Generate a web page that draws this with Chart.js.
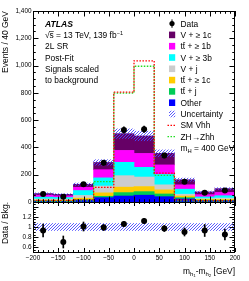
<!DOCTYPE html>
<html>
<head>
<meta charset="utf-8">
<script src="https://cdn.jsdelivr.net/npm/chart.js@4.4.1/dist/chart.umd.min.js"></script>
<style>
  html, body { margin: 0; padding: 0; background: #fff; }
  #wrap { position: relative; width: 249px; height: 281px; }
  #wrap canvas { position: absolute; left: 0; top: 0; }
</style>
</head>
<body>
<div id="wrap">
  <canvas id="main-chart" width="249" height="281"></canvas>
  <canvas id="ratio-chart" width="249" height="281"></canvas>
</div>
<script>
// m_h1 - m_h2 in 40 GeV bins
const binCentres = [-180, -140, -100, -60, -20, 20, 60, 100, 140, 180];
const binEdges = [-200, -160, -120, -80, -40, 0, 40, 80, 120, 160, 200];

// post-fit backgrounds, events / bin (bottom of the stack first)
const other = [6, 5, 12, 32, 44, 50, 39, 22, 8, 8];
const ttJ = [3, 3, 6, 10, 25, 26, 20, 10, 6, 5];
const tt1c = [5, 5, 10, 25, 40, 37, 30, 12, 6, 6];
const vJ = [8, 8, 20, 50, 84, 70, 37, 13, 5, 10];
const v3b = [14, 12, 36, 60, 98, 71, 76, 37, 12, 17];
const tt1b = [14, 12, 24, 60, 87, 102, 70, 32, 17, 24];
const v1c = [12, 11, 22, 53, 123, 128, 85, 37, 20, 28];
const bkgUnc = [5, 5, 9, 20, 35, 35, 25, 12, 6, 7];

// data
const data = [59, 39, 131, 287, 528, 533, 341, 148, 67, 84];
const dataErr = [8, 6, 11, 17, 23, 23, 18, 12, 8, 9];

// signals, scaled to background
const smVhh = [12, 12, 18, 107, 805, 1035, 212, 15, 10, 10];
const zhZhh = [4, 4, 8, 150, 798, 995, 195, 8, 4, 4];

// ratio panel
const ratio = [0.93, 0.70, 1.01, 0.99, 1.06, 1.12, 0.97, 0.90, 0.93, 0.85];
const ratioErr = [0.13, 0.12, 0.09, 0.06, 0.05, 0.05, 0.06, 0.08, 0.12, 0.11];
const ratioUnc = [0.07, 0.07, 0.07, 0.07, 0.07, 0.07, 0.07, 0.07, 0.07, 0.07];

// ticks
const mainYTicks = [0, 200, 400, 600, 800, 1000, 1200, 1400];
const ratioYTicks = [0.6, 0.8, 1, 1.2];
const xTicks = [-200, -150, -100, -50, 0, 50, 100, 150, 200];

const bkgSeries = [other, ttJ, tt1c, vJ, v3b, tt1b, v1c];
const bkgNames = ['Other', 'tt\u0304 + j', 'tt\u0304 + \u2265 1c', 'V + j', 'V + \u2265 3b', 'tt\u0304 + \u2265 1b', 'V + \u2265 1c'];
const bkgColors = ['#0000ff', '#00cc55', '#ffcc00', '#cccccc', '#00ffff', '#ff00ff', '#660066'];

const FONT = '"Liberation Sans", Arial, Helvetica, sans-serif';
Chart.defaults.font.family = FONT;
Chart.defaults.color = '#000';

function hatch(ctx) {
  const t = document.createElement('canvas');
  t.width = 3; t.height = 3;
  const c = t.getContext('2d');
  c.strokeStyle = '#4848ff';
  c.lineWidth = 0.9;
  c.beginPath();
  c.moveTo(0, 3); c.lineTo(3, 0);
  c.moveTo(-1, 1); c.lineTo(1, -1);
  c.moveTo(2, 4); c.lineTo(4, 2);
  c.stroke();
  return ctx.createPattern(t, 'repeat');
}

// text with a combining macron drawn as a real bar (tt̄)
function drawText(ctx, s, x, y) {
  const k = s.indexOf('\u0304');
  if (k < 0) { ctx.fillText(s, x, y); return; }
  const head = s.slice(0, k), tail = s.slice(k + 1);
  ctx.fillText(head, x, y);
  const wHead = ctx.measureText(head).width;
  const wLast = ctx.measureText(head.slice(-1)).width;
  ctx.fillRect(x + wHead - wLast + 0.3, y - 7, wLast - 0.3, 0.6);
  ctx.fillText(tail, x + wHead, y);
}

// box with inward ticks on all four sides
const frame = {
  id: 'frame',
  afterDatasetsDraw(chart, args, o) {
    const { ctx, chartArea: a } = chart;
    const xs = chart.scales.x, ys = chart.scales.y;
    ctx.save();
    ctx.strokeStyle = '#000';
    ctx.lineWidth = 1;
    ctx.strokeRect(Math.round(a.left) + 0.5, Math.round(a.top) + 0.5,
      Math.round(a.right) - Math.round(a.left) - 1, Math.round(a.bottom) - Math.round(a.top));
    ctx.beginPath();
    const xt = (v, len) => {
      const p = Math.round(xs.getPixelForValue(v)) + 0.5;
      ctx.moveTo(p, a.bottom); ctx.lineTo(p, a.bottom - len);
      ctx.moveTo(p, a.top); ctx.lineTo(p, a.top + len);
    };
    const yt = (v, len) => {
      const p = Math.round(ys.getPixelForValue(v)) + 0.5;
      ctx.moveTo(a.left, p); ctx.lineTo(a.left + len, p);
      ctx.moveTo(a.right, p); ctx.lineTo(a.right - len, p);
    };
    for (let v = o.xMin; v <= o.xMax + 1e-9; v += o.xMinor) {
      const major = Math.abs(v / o.xMajor - Math.round(v / o.xMajor)) < 1e-6;
      xt(v, major ? o.xLen : o.xLen / 2);
    }
    for (let v = o.yMin; v <= o.yMax + 1e-9; v += o.yMinor) {
      const major = Math.abs(v / o.yMajor - Math.round(v / o.yMajor)) < 1e-6;
      yt(v, major ? o.yLen : o.yLen / 2);
    }
    ctx.stroke();
    ctx.restore();
  }
};

// ATLAS label and legend
const annotations = {
  id: 'annotations',
  afterDraw(chart) {
    const ctx = chart.ctx;
    ctx.save();
    ctx.fillStyle = '#000';
    ctx.textBaseline = 'alphabetic';
    ctx.textAlign = 'left';

    ctx.font = 'italic bold 8.6px ' + FONT;
    ctx.fillText('ATLAS', 45, 27);
    ctx.font = '8.4px ' + FONT;
    const s1 = '\u221As = 13 TeV, 139 fb';
    ctx.fillText(s1, 45, 37.8);
    const wr = ctx.measureText('\u221A').width, ws = ctx.measureText('\u221As').width;
    ctx.fillRect(45 + wr - 0.5, 31, ws - wr + 0.5, 0.6);
    const w1 = ctx.measureText(s1).width;
    ctx.font = '5.5px ' + FONT;
    ctx.fillText('\u22121', 45 + w1 + 0.3, 34.5);
    ctx.font = '8.4px ' + FONT;
    ctx.fillText('2L SR', 45, 49.2);
    ctx.fillText('Post-Fit', 45, 60.5);
    ctx.fillText('Signals scaled', 45, 71.7);
    ctx.fillText('to background', 45, 83.1);

    // legend
    const mx = 172, tx = 180.5;
    const row = i => 23.6 + 11.3 * i;
    let c = row(0);
    ctx.beginPath(); ctx.arc(mx, c, 2.6, 0, Math.PI * 2); ctx.fill();
    ctx.fillRect(mx - 0.5, c - 4.2, 1, 8.4);
    ctx.fillText('Data', tx, c + 3);
    for (let k = 0; k < bkgNames.length; k++) {
      const j = bkgNames.length - 1 - k;
      c = row(k + 1);
      ctx.fillStyle = bkgColors[j];
      ctx.fillRect(mx - 3, c - 3.3, 6.2, 6.6);
      ctx.fillStyle = '#000';
      drawText(ctx, bkgNames[j], tx, c + 3);
    }
    c = row(8);
    ctx.fillStyle = '#fff';
    ctx.fillRect(mx - 3, c - 3.3, 6.2, 6.6);
    ctx.fillStyle = hatch(ctx);
    ctx.fillRect(mx - 3, c - 3.3, 6.2, 6.6);
    ctx.fillStyle = '#000';
    ctx.fillText('Uncertainty', tx, c + 3);
    const dotted = (i, colour, text) => {
      const cc = row(i);
      ctx.save();
      ctx.strokeStyle = colour; ctx.lineWidth = 1.3; ctx.setLineDash([1.5, 1.5]);
      ctx.beginPath(); ctx.moveTo(mx - 4.5, cc); ctx.lineTo(mx + 4.5, cc); ctx.stroke();
      ctx.restore();
      ctx.fillText(text, tx, cc + 3);
    };
    dotted(9, '#ff0000', 'SM Vhh');
    dotted(10, '#22dd22', 'ZH\u2192Zhh');
    c = row(11);
    ctx.fillText('m', tx, c + 3);
    const wm = ctx.measureText('m').width;
    ctx.font = '5.8px ' + FONT;
    ctx.fillText('H', tx + wm, c + 5);
    const wh = ctx.measureText('H').width;
    ctx.font = '8.4px ' + FONT;
    ctx.fillText(' = 400 GeV', tx + wm + wh, c + 3);
    ctx.restore();
  }
};

// x-axis title with nested subscripts
const xTitle = {
  id: 'xTitle',
  afterDraw(chart) {
    const ctx = chart.ctx;
    const parts = [
      ['m', 8.4, 0], ['h', 6, 2.2], ['1', 4.4, 3.6],
      ['-m', 8.4, 0], ['h', 6, 2.2], ['2', 4.4, 3.6], [' [GeV]', 8.4, 0]
    ];
    ctx.save();
    ctx.fillStyle = '#000';
    ctx.textBaseline = 'alphabetic';
    let total = 0;
    for (const p of parts) { ctx.font = p[1] + 'px ' + FONT; total += ctx.measureText(p[0]).width; }
    let x = chart.chartArea.right - total;
    const base = 273.5;
    for (const p of parts) {
      ctx.font = p[1] + 'px ' + FONT;
      ctx.fillText(p[0], x, base + p[2]);
      x += ctx.measureText(p[0]).width;
    }
    ctx.restore();
  }
};

const mainCtx = document.getElementById('main-chart').getContext('2d');
const totals = binCentres.map((_, i) => bkgSeries.reduce((s, a) => s + a[i], 0));
// histogram outline: point i sits on the left edge of bin i, the last one on the right edge
const stepData = vals => binEdges.map((x, i) => ({ x, y: vals[Math.max(0, i - 1)] }));

const mainChart = new Chart(mainCtx, {
  type: 'bar',
  data: {
    datasets: [
      ...bkgSeries.map((vals, k) => ({
        label: bkgNames[k],
        data: binCentres.map((x, i) => ({ x, y: vals[i] })),
        backgroundColor: bkgColors[k]
      })),
      {
        label: 'Uncertainty',
        yAxisID: 'y2',
        data: binCentres.map((x, i) => ({ x, y: [totals[i] - bkgUnc[i], totals[i] + bkgUnc[i]] })),
        backgroundColor: hatch(mainCtx),
        order: -1
      },
      {
        type: 'line', label: 'ZH\u2192Zhh', yAxisID: 'y2',
        data: stepData(zhZhh), stepped: 'after',
        borderColor: '#22dd22', borderWidth: 1.3, borderDash: [1.5, 1.5],
        pointRadius: 0, fill: false, order: -2
      },
      {
        type: 'line', label: 'SM Vhh', yAxisID: 'y2',
        data: stepData(smVhh), stepped: 'after',
        borderColor: '#ff0000', borderWidth: 1.3, borderDash: [1.5, 1.5],
        pointRadius: 0, fill: false, order: -3
      },
      {
        label: 'Data error', yAxisID: 'y2',
        data: binCentres.map((x, i) => ({ x, y: [data[i] - dataErr[i], data[i] + dataErr[i]] })),
        backgroundColor: '#000', barThickness: 1, order: -4
      },
      {
        type: 'line', label: 'Data', yAxisID: 'y2',
        data: binCentres.map((x, i) => ({ x, y: data[i] })),
        showLine: false, pointRadius: 3, pointBackgroundColor: '#000',
        pointBorderWidth: 0, order: -5
      }
    ]
  },
  options: {
    responsive: false,
    animation: false,
    events: [],
    layout: { padding: { left: 0, right: 14, top: 11, bottom: 79 } },
    datasets: { bar: { grouped: false, categoryPercentage: 1, barPercentage: 1, borderWidth: 0 } },
    plugins: {
      legend: { display: false },
      tooltip: { enabled: false },
      frame: { xMin: -200, xMax: 200, xMajor: 50, xMinor: 10, xLen: 5.5,
               yMin: 0, yMax: 1400, yMajor: 200, yMinor: 50, yLen: 5.5 }
    },
    scales: {
      x: {
        type: 'linear', min: -200, max: 200, offset: false, display: false,
        ticks: { stepSize: 50 }
      },
      y: {
        min: 0, max: 1400, stacked: true,
        afterBuildTicks: s => { s.ticks = mainYTicks.map(value => ({ value })); },
        afterFit: s => { s.width = 33; },
        grid: { display: false, drawTicks: false },
        border: { display: false },
        ticks: { font: { size: 6.4 }, padding: 1.5, autoSkip: false, color: '#000' },
        title: { display: true, text: 'Events / 40 GeV', align: 'end',
                 font: { size: 8.5 }, padding: { top: 1, bottom: 0 }, color: '#000' }
      },
      y2: { min: 0, max: 1400, display: false }
    }
  },
  plugins: [frame, annotations]
});

const ratioCtx = document.getElementById('ratio-chart').getContext('2d');
const ratioChart = new Chart(ratioCtx, {
  type: 'bar',
  data: {
    datasets: [
      {
        label: 'Uncertainty',
        data: binCentres.map((x, i) => ({ x, y: [1 - ratioUnc[i], 1 + ratioUnc[i]] })),
        backgroundColor: hatch(ratioCtx),
        order: 2
      },
      {
        label: 'Data error',
        data: binCentres.map((x, i) => ({ x, y: [ratio[i] - ratioErr[i], ratio[i] + ratioErr[i]] })),
        backgroundColor: '#000', barThickness: 1, order: 1
      },
      {
        type: 'line', label: 'Data / Bkg.',
        data: binCentres.map((x, i) => ({ x, y: ratio[i] })),
        showLine: false, pointRadius: 3, pointBackgroundColor: '#000',
        pointBorderWidth: 0, order: 0
      }
    ]
  },
  options: {
    responsive: false,
    animation: false,
    events: [],
    layout: { padding: { left: 0, right: 14, top: 202, bottom: 0 } },
    datasets: { bar: { grouped: false, categoryPercentage: 1, barPercentage: 1, borderWidth: 0 } },
    plugins: {
      legend: { display: false },
      tooltip: { enabled: false },
      frame: { xMin: -200, xMax: 200, xMajor: 50, xMinor: 10, xLen: 4,
               yMin: 0.5, yMax: 1.5, yMajor: 0.2, yMinor: 0.05, yLen: 5.5 }
    },
    scales: {
      x: {
        type: 'linear', min: -200, max: 200, offset: false,
        afterBuildTicks: s => { s.ticks = xTicks.map(value => ({ value })); },
        afterFit: s => { s.height = 29; },
        grid: { display: false, drawTicks: false },
        border: { display: false },
        ticks: {
          font: { size: 6.4 }, padding: 2.5, autoSkip: false, maxRotation: 0, color: '#000',
          callback: v => (v < 0 ? '\u2212' + Math.abs(v) : String(v))
        }
      },
      y: {
        min: 0.5, max: 1.5,
        afterBuildTicks: s => { s.ticks = ratioYTicks.map(value => ({ value })); },
        afterFit: s => { s.width = 33; },
        grid: { display: false, drawTicks: false },
        border: { display: false },
        ticks: { font: { size: 6.4 }, padding: 1.5, autoSkip: false, color: '#000',
                 callback: v => String(Math.round(v * 10) / 10) },
        title: { display: true, text: 'Data / Bkg.', align: 'end',
                 font: { size: 8.5 }, padding: { top: 1, bottom: 0 }, color: '#000' }
      }
    }
  },
  plugins: [frame, xTitle]
});
</script>
</body>
</html>
